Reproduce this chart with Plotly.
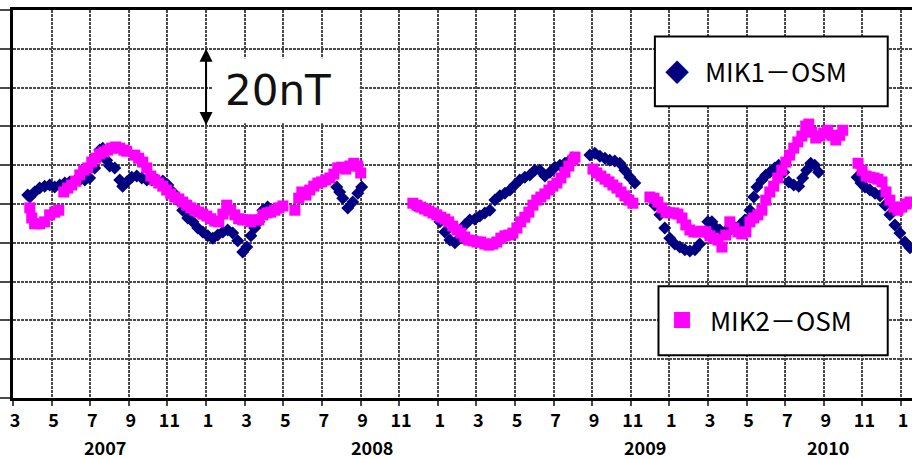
import plotly.graph_objects as go

# x = months counted from Jan 2007 (2 = March 2007), y = nT (relative scale 0-100)
mik1_month = [2.76, 2.87, 3.12, 3.38, 3.64, 3.90, 4.16, 4.42, 4.68, 4.94, 5.20, 5.46, 5.72, 5.97,
              6.23, 6.49, 6.65, 6.85, 7.01, 7.27, 7.53, 7.68, 7.89, 8.15, 8.41, 8.67, 8.93, 9.19,
              9.45, 9.76, 10.02, 10.27, 10.53, 10.79, 11.05, 11.31, 11.57, 11.83, 12.09, 12.35,
              12.61, 12.87, 13.12, 13.38, 13.64, 13.90, 14.11, 14.32, 14.52, 14.73, 14.94, 15.19, 15.45,
              18.77, 18.92, 19.08, 19.34, 19.60, 19.86, 20.06,
              22.81, 23.07, 23.33, 23.59, 23.85, 24.11, 24.37, 24.63, 24.89, 25.14, 25.40, 25.66,
              25.92, 26.18, 26.44, 26.70, 26.96, 27.22, 27.48, 27.74, 27.99, 28.25, 28.51, 28.77,
              29.03, 29.29, 29.55, 29.81, 30.07, 30.33, 30.59, 30.85, 31.00,
              31.88, 32.14, 32.40, 32.66, 32.91, 33.17, 33.43, 33.69, 33.95, 34.21,
              35.24, 35.51, 35.76, 36.02, 36.28, 36.54, 36.80, 37.06, 37.32, 37.57, 37.83, 37.99,
              38.20, 38.40, 38.61, 38.87, 39.13, 39.39, 39.65, 39.91, 40.17, 40.37, 40.53, 40.79,
              40.99, 41.20, 41.46, 41.66, 41.92, 42.18, 42.44, 42.70, 42.90, 43.11, 43.32, 43.53, 43.73,
              45.72, 45.92, 46.13, 46.39, 46.65, 46.91, 47.17, 47.42, 47.68, 47.94, 48.20, 48.46]
mik1_nT = [52.3, 51.8, 53.1, 54.1, 54.6, 54.9, 54.4, 54.9, 55.4, 55.7, 55.9, 56.2, 56.2, 56.7,
           59.3, 63.9, 64.4, 61.3, 59.8, 59.3, 56.2, 54.6, 55.7, 56.9, 57.2, 56.7, 56.2, 56.2,
           56.2, 55.9, 54.9, 53.1, 51.0, 48.4, 46.4, 45.4, 43.8, 42.8, 41.8, 41.2,
           42.0, 42.8, 43.3, 42.5, 40.5, 37.6, 38.9, 41.8, 43.8, 45.4, 48.4, 49.2, 48.4,
           54.4, 53.1, 51.5, 49.0, 50.5, 52.8, 54.4,
           49.7, 49.2, 48.7, 48.2, 47.4, 45.4, 42.8, 40.7, 40.0, 41.2, 44.6, 45.9,
           46.1, 46.9, 47.7, 48.4, 51.0, 52.1, 52.8, 53.6, 54.9, 56.2, 56.9, 57.5,
           58.7, 58.7, 57.2, 58.2, 59.5, 60.0, 60.5, 61.3, 61.9,
           62.6, 63.1, 62.3, 61.8, 61.3, 61.1, 60.5, 58.7, 56.9, 55.4,
           49.7, 47.2, 43.8, 41.2, 39.7, 38.9, 38.2, 37.9, 38.2, 39.7, 42.8, 45.4,
           45.4, 43.8, 43.3, 42.8, 43.3, 43.8, 44.6, 45.9, 48.4, 51.8, 54.4, 56.2,
           57.4, 58.2, 59.3, 60.0, 58.2, 55.7, 54.9, 54.6, 56.7, 58.7, 60.5, 60.0, 58.2,
           56.9, 55.4, 54.4, 53.6, 52.8, 52.1, 49.7, 47.2, 44.6, 42.5, 40.2, 38.7]

mik2_month = [2.87, 2.97, 3.12, 3.38, 3.64, 3.90, 4.16, 4.37, 4.63, 4.83, 5.04, 5.25, 5.46, 5.66,
              5.87, 6.08, 6.29, 6.49, 6.70, 6.91, 7.11, 7.32, 7.53, 7.74, 7.89,
              8.31, 8.51, 8.72, 8.93, 9.14, 9.34, 9.55, 9.76, 9.96, 10.17, 10.38, 10.59, 10.79,
              11.00, 11.21, 11.42, 11.62, 11.83, 12.04, 12.24, 12.45, 12.66, 12.87, 13.07, 13.28,
              13.49, 13.69, 13.90, 14.11, 14.32, 14.52, 14.73, 14.94, 15.15, 15.35, 15.56, 15.77, 15.98,
              16.60, 16.80, 16.96, 17.17, 17.37, 17.58, 17.79, 17.99, 18.20, 18.41, 18.62, 18.82,
              19.03, 19.24, 19.45, 19.65, 19.86, 20.01,
              22.71, 22.92, 23.12, 23.33, 23.54, 23.75, 23.95, 24.16, 24.37, 24.57, 24.78, 24.99,
              25.20, 25.40, 25.61, 25.82, 26.03, 26.23, 26.44, 26.65, 26.85, 27.06, 27.27, 27.48,
              27.68, 27.89, 28.10, 28.30, 28.51, 28.72, 28.93, 29.13, 29.34, 29.55, 29.76, 29.96,
              30.17, 30.38, 30.59, 30.79, 31.00, 31.11,
              32.04, 32.24, 32.45, 32.66, 32.87, 33.07, 33.28, 33.49, 33.69, 33.90, 34.11,
              34.99, 35.20, 35.40, 35.61, 35.82, 36.02, 36.23, 36.44, 36.65, 36.85, 37.06, 37.27,
              37.47, 37.68, 37.89, 38.10, 38.30, 38.51, 38.72, 38.92, 39.13, 39.34, 39.55, 39.75,
              39.96, 40.17, 40.37, 40.58, 40.79, 40.99, 41.20, 41.40, 41.61, 41.82, 42.03, 42.23,
              42.44, 42.65, 42.86, 43.06, 43.22, 43.37, 43.58, 43.79, 43.99, 44.20, 44.41, 44.62,
              44.82, 44.98,
              45.77, 45.98, 46.19, 46.39, 46.60, 46.80, 47.01, 47.22, 47.42, 47.63, 47.84, 48.04,
              48.25, 48.46]
mik2_nT = [49.0, 46.4, 44.9, 44.9, 45.4, 47.2, 47.9, 48.4, 53.1, 54.1, 54.9, 55.9, 57.5, 58.7,
           59.3, 60.8, 61.8, 62.9, 63.4, 63.9, 64.4, 64.7, 64.4, 63.9, 63.6,
           62.6, 61.8, 60.8, 59.3, 57.2, 56.2, 55.4, 54.6, 53.6, 52.6, 51.8, 51.3, 50.5,
           49.7, 49.0, 48.4, 47.9, 47.4, 46.9, 46.2, 45.6, 45.4, 47.4, 49.7, 48.4,
           47.2, 46.2, 45.9, 45.9, 45.4, 45.9, 45.9, 47.2, 47.7, 47.9, 48.4, 49.0, 49.5,
           48.4, 51.5, 53.1, 52.3, 53.6, 54.6, 55.4, 55.7, 56.2, 56.7, 57.7, 59.3,
           59.5, 59.0, 59.8, 60.5, 59.8, 58.0,
           50.2, 49.7, 49.2, 48.7, 48.2, 47.7, 47.2, 46.6, 46.1, 45.4, 44.3, 43.3,
           42.5, 41.5, 40.7, 40.5, 40.2, 40.2, 39.7, 39.4, 39.7, 40.2, 41.2, 41.8,
           42.0, 42.5, 43.8, 45.4, 46.6, 47.9, 49.7, 51.0, 51.8, 52.6, 53.6, 54.6,
           55.4, 56.7, 58.2, 59.8, 61.3, 62.1,
           59.0, 58.0, 57.2, 56.4, 55.7, 54.9, 54.1, 53.1, 52.1, 51.0, 50.2,
           51.8, 51.5, 50.5, 49.0, 47.9, 47.7, 47.7, 47.4, 46.4, 44.6, 43.3, 42.8,
           42.8, 43.0, 42.8, 41.8, 41.2, 40.7, 38.9, 42.0, 45.4, 43.8, 42.8, 42.3,
           42.8, 45.4, 46.4, 47.2, 48.4, 51.0, 53.1, 54.6, 56.7, 58.7, 60.8, 62.6,
           64.4, 66.0, 67.5, 70.1, 70.6, 68.5, 67.0, 67.5, 68.3, 69.0, 67.7, 66.5,
           67.7, 69.0,
           60.5, 58.7, 57.2, 56.9, 56.7, 56.4, 55.7, 53.1, 51.0, 49.2, 48.4, 49.2,
           50.0, 50.5]

tick_months = list(range(2, 49, 2))
tick_labels = ["3", "5", "7", "9", "11", "1"] * 4
year_labels = ["2007", "2008", "2009", "2010"]
year_label_months = [6.75, 20.62, 34.73, 44.21]
series_names = ["MIK1－OSM", "MIK2－OSM"]

NAVY = "#000080"
MAGENTA = "#FF00FF"
GRID = "#4a4a4a"

fig = go.Figure()
fig.add_trace(go.Scatter(x=mik1_month, y=mik1_nT, mode="markers", name=series_names[0],
                         marker=dict(symbol="diamond", size=10, color=NAVY, line=dict(width=0)),
                         showlegend=False))
fig.add_trace(go.Scatter(x=mik2_month, y=mik2_nT, mode="markers", name=series_names[1],
                         marker=dict(symbol="square", size=11, color=MAGENTA, line=dict(width=0)),
                         showlegend=False))

fig.update_xaxes(range=[2, 48.566], tickmode="array", tickvals=tick_months, ticktext=tick_labels,
                 showgrid=True, gridcolor=GRID, gridwidth=1.5, griddash="3px,1px",
                 showline=True, linecolor="black", linewidth=2.5, mirror=True,
                 ticks="outside", ticklen=5, tickcolor=GRID, tickwidth=1.5,
                 tickfont=dict(family="Noto Sans CJK JP", size=18, color="black", weight="bold"),
                 ticklabelstandoff=0, ticklabelshift=2, zeroline=False, automargin=False)
fig.update_yaxes(range=[0, 100], dtick=10, tick0=0, showticklabels=False,
                 showgrid=True, gridcolor=GRID, gridwidth=1.5, griddash="3px,1px",
                 showline=True, linecolor="black", linewidth=2.5,
                 ticks="outside", ticklen=10, tickcolor=GRID, tickwidth=1.5, zeroline=False,
                 automargin=False)

shapes = [
    # white box behind "20nT"
    dict(type="rect", xref="paper", yref="paper", x0=0.2222, x1=0.3858, y0=0.7083, y1=0.8755,
         fillcolor="white", line=dict(width=0), layer="above"),
    # legend boxes
    dict(type="rect", xref="paper", yref="paper", x0=0.714, x1=0.973, y0=0.752, y1=0.932,
         fillcolor="white", line=dict(color="black", width=2), layer="above"),
    dict(type="rect", xref="paper", yref="paper", x0=0.718, x1=0.973, y0=0.110, y1=0.288,
         fillcolor="white", line=dict(color="black", width=2), layer="above"),
]

annotations = [
    dict(x=12, y=90, ax=12, ay=70, xref="x", yref="y", axref="x", ayref="y", text="",
         showarrow=True, arrowside="end+start", arrowhead=2, arrowsize=1.3, arrowwidth=2,
         arrowcolor="black"),
    dict(x=0.2333, y=0.793, xref="paper", yref="paper", text="20nT", showarrow=False,
         xanchor="left", yanchor="middle",
         font=dict(family="DejaVu Sans", size=42, color="#111")),
    dict(x=0.739, y=0.843, xref="paper", yref="paper", text="◆", showarrow=False,
         xanchor="center", yanchor="middle",
         font=dict(family="Noto Sans CJK JP", size=24, color=NAVY)),
    dict(x=0.767, y=0.845, xref="paper", yref="paper", text=series_names[0], showarrow=False,
         xanchor="left", yanchor="middle",
         font=dict(family="Noto Sans CJK JP", size=26, color="black")),
    dict(x=0.744, y=0.202, xref="paper", yref="paper", text="■", showarrow=False,
         xanchor="center", yanchor="middle",
         font=dict(family="Noto Sans CJK JP", size=20, color=MAGENTA)),
    dict(x=0.773, y=0.202, xref="paper", yref="paper", text=series_names[1], showarrow=False,
         xanchor="left", yanchor="middle",
         font=dict(family="Noto Sans CJK JP", size=26, color="black")),
]
for yr, xm in zip(year_labels, year_label_months):
    annotations.append(dict(x=xm, y=-0.125, xref="x", yref="paper", text=yr, showarrow=False,
                            xanchor="center", yanchor="middle",
                            font=dict(family="Noto Sans CJK JP", size=18, color="black",
                                      weight="bold")))

fig.update_layout(width=912, height=459, margin=dict(l=13, r=0, t=10, b=61, autoexpand=False),
                  plot_bgcolor="white", paper_bgcolor="white",
                  shapes=shapes, annotations=annotations)

fig.write_html("out.html", config={"displayModeBar": False})

# remove the browser's default page margin so the figure sits at the window's corner
with open("out.html", encoding="utf-8") as f:
    html = f.read()
html = html.replace("<head>", "<head><style>html,body{margin:0;padding:0;overflow:hidden;}</style>", 1)
with open("out.html", "w", encoding="utf-8") as f:
    f.write(html)
